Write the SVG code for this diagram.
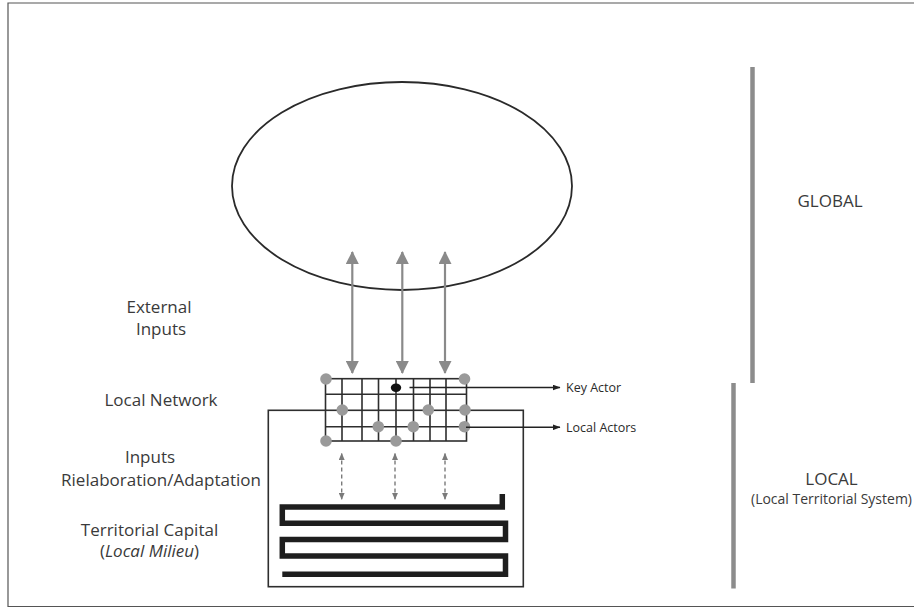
<svg xmlns="http://www.w3.org/2000/svg" width="914" height="610" viewBox="0 0 914 610">
<style>
.lbl{font-family:"Open Sans","Liberation Sans",sans-serif;font-size:17px;fill:#3a3a3a;text-anchor:middle}
.sm{font-family:"Open Sans","Liberation Sans",sans-serif;font-size:12.5px;fill:#2a2a2a}
.grid{stroke:#2e2e2e;stroke-width:1.6;fill:none}
.gdot{fill:#9a9a9a}
.garrow{stroke:#8a8a8a;stroke-width:2.2;fill:none;marker-start:url(#gh);marker-end:url(#gh)}
.darrow{stroke:#7a7a7a;stroke-width:1.4;stroke-dasharray:4 3;fill:none;marker-start:url(#dh);marker-end:url(#dh)}
.barrow{stroke:#222;stroke-width:1.4;fill:none;marker-end:url(#bh)}
.bar{stroke:#8c8c8c;stroke-width:4.5}
</style>
<defs>
<marker id="gh" markerUnits="userSpaceOnUse" viewBox="0 0 13 13" refX="12" refY="6.5" markerWidth="13" markerHeight="13" orient="auto-start-reverse"><path d="M0,0 L13,6.5 L0,13 z" fill="#8a8a8a"/></marker>
<marker id="dh" markerUnits="userSpaceOnUse" viewBox="0 0 7 6" refX="6.5" refY="3" markerWidth="7" markerHeight="6" orient="auto-start-reverse"><path d="M0,0 L7,3 L0,6 z" fill="#7a7a7a"/></marker>
<marker id="bh" markerUnits="userSpaceOnUse" viewBox="0 0 8 6" refX="7.5" refY="3" markerWidth="8" markerHeight="6" orient="auto"><path d="M0,0 L8,3 L0,6 z" fill="#222"/></marker>
</defs>
<rect width="914" height="610" fill="#fff"/>
<path d="M914,3 H8 V606.5 H914" fill="none" stroke="#555" stroke-width="1.2"/>

<g id="global-ellipse"><ellipse cx="402" cy="186" rx="170" ry="104" fill="none" stroke="#2a2a2a" stroke-width="1.8"/></g>

<g id="territorial-box"><rect x="268.3" y="410.3" width="255" height="176.4" fill="none" stroke="#2e2e2e" stroke-width="1.6"/></g>

<g id="local-network">
<g class="grid">
<rect x="325.5" y="378.7" width="141" height="62.3"/>
<path d="M342,378.7V441 M362,378.7V441 M378.5,378.7V441 M396,378.7V441 M413.5,378.7V441 M430,378.7V441 M446,378.7V441"/>
<path d="M325.5,394.3H466.5 M325.5,426.7H466.5"/>
</g>
<circle class="gdot" cx="326" cy="379" r="5.8"/>
<circle class="gdot" cx="464.5" cy="379" r="5.8"/>
<circle class="gdot" cx="342.3" cy="410" r="5.8"/>
<circle class="gdot" cx="428.3" cy="410" r="5.8"/>
<circle class="gdot" cx="465" cy="410" r="5.8"/>
<circle class="gdot" cx="378.3" cy="426.7" r="5.8"/>
<circle class="gdot" cx="413.3" cy="426.7" r="5.8"/>
<circle class="gdot" cx="464.5" cy="426.7" r="5.8"/>
<circle class="gdot" cx="326" cy="441" r="5.8"/>
<circle class="gdot" cx="396" cy="441" r="5.8"/>
<ellipse cx="396" cy="387.7" rx="5.2" ry="4.2" fill="#111"/>
</g>

<g id="territorial-capital">
<path d="M502.3,494 V507 H282.3 V523.3 H505.5 V539.5 H282.3 V556 H505.5 V574.3 H282.3" fill="none" stroke="#1e1e1e" stroke-width="5.5" stroke-linejoin="miter"/>
</g>

<g id="connectors">
<line class="garrow" x1="352.3" y1="252" x2="352.3" y2="373"/>
<line class="garrow" x1="402.3" y1="252" x2="402.3" y2="373"/>
<line class="garrow" x1="445" y1="252" x2="445" y2="373"/>
<line class="darrow" x1="341.7" y1="453.5" x2="341.7" y2="499.3"/>
<line class="darrow" x1="395" y1="453.5" x2="395" y2="499.3"/>
<line class="darrow" x1="445" y1="453.5" x2="445" y2="499.3"/>
<line class="barrow" x1="409.5" y1="387.5" x2="560" y2="387.5"/>
<line class="barrow" x1="466" y1="427.3" x2="560" y2="427.3"/>
</g>

<g id="scale-bars">
<line class="bar" x1="752.5" y1="67" x2="752.5" y2="383"/>
<line class="bar" x1="733.5" y1="383" x2="733.5" y2="588.5"/>
</g>

<g id="labels">
<text class="lbl" x="159" y="313">External</text>
<text class="lbl" x="161" y="335">Inputs</text>
<text class="lbl" x="161" y="405.5">Local Network</text>
<text class="lbl" x="150" y="463">Inputs</text>
<text class="lbl" x="161" y="485.5">Rielaboration/Adaptation</text>
<text class="lbl" x="149.5" y="536">Territorial Capital</text>
<text class="lbl" x="149.5" y="557">(<tspan font-style="italic">Local Milieu</tspan>)</text>
<text class="sm" x="566" y="392.3">Key Actor</text>
<text class="sm" x="566" y="431.7">Local Actors</text>
<text class="lbl" x="830" y="207">GLOBAL</text>
<text class="lbl" x="831.5" y="484.5">LOCAL</text>
<text class="lbl" x="831.5" y="504" style="font-size:14px">(Local Territorial System)</text>
</g>
</svg>
